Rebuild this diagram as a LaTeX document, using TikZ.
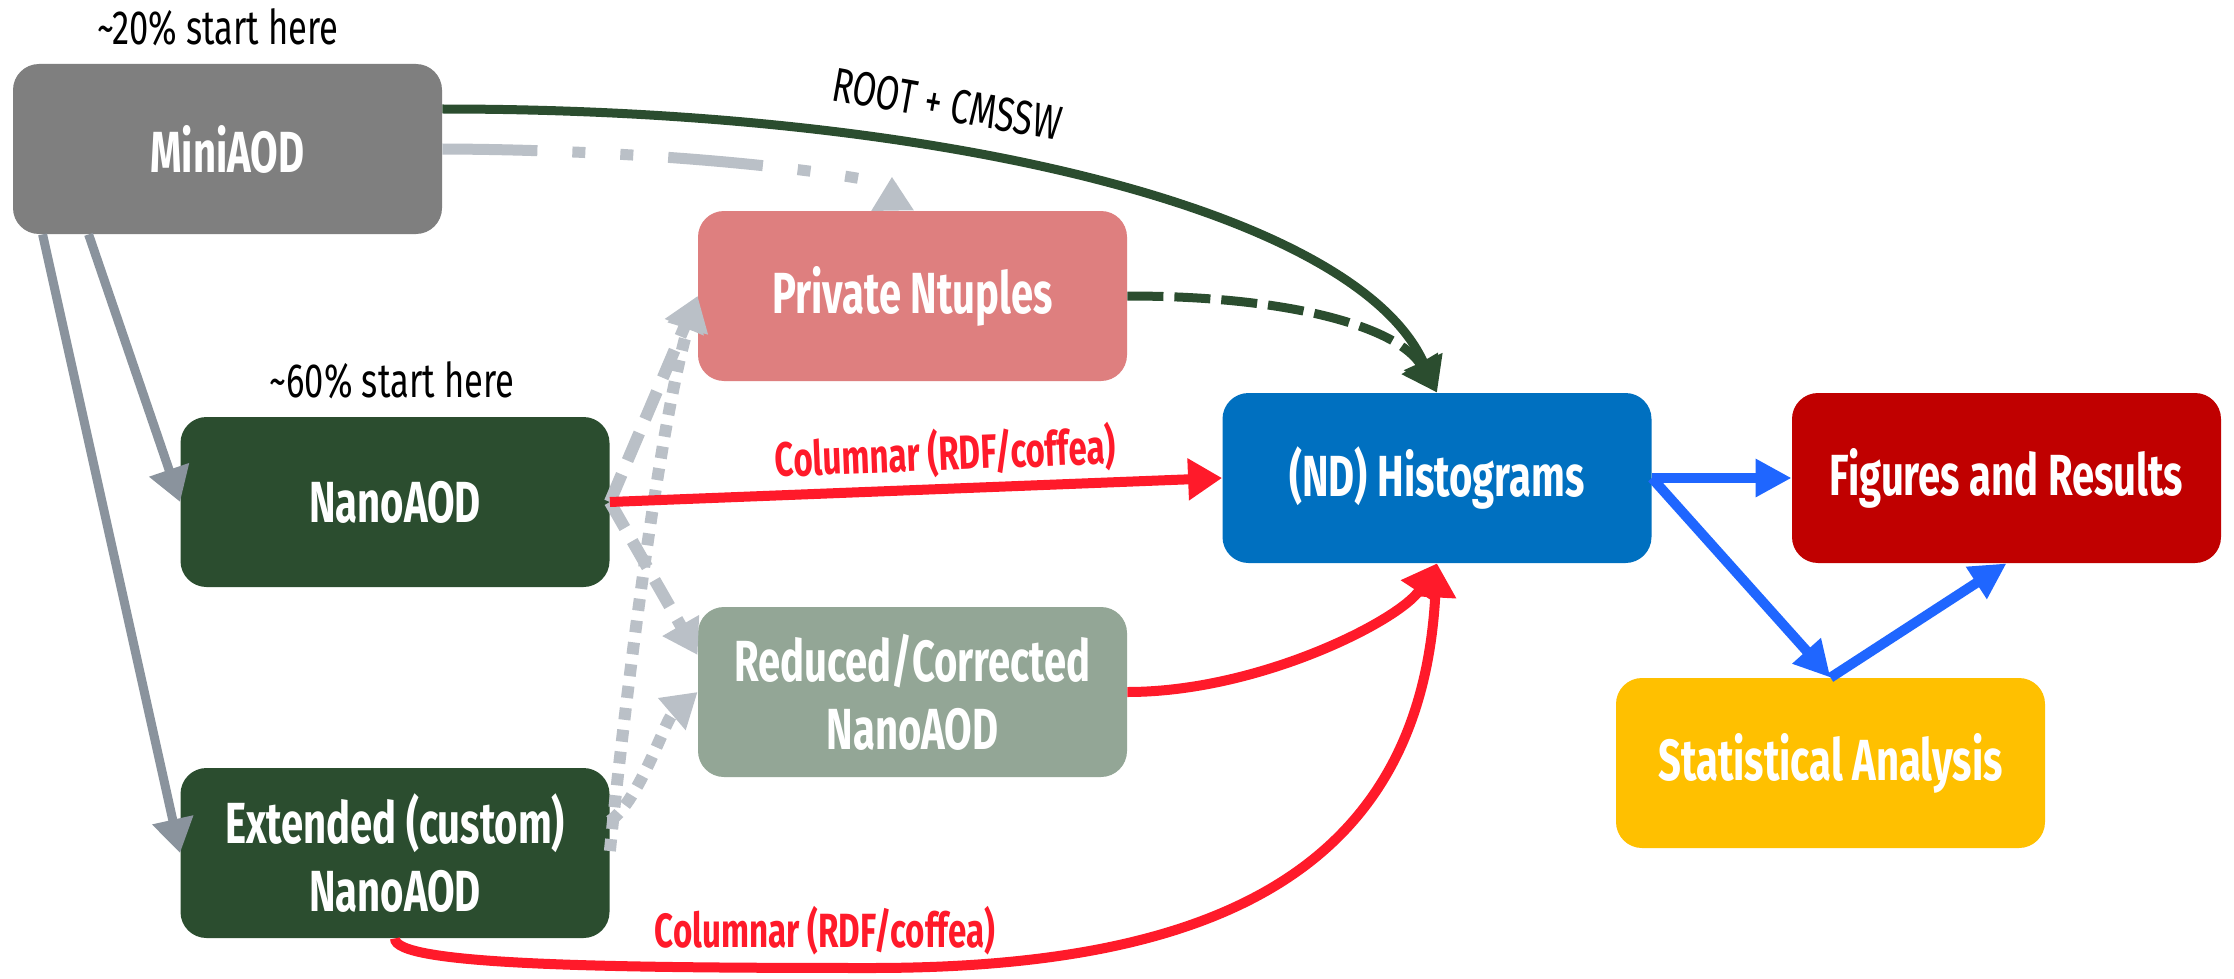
\documentclass[tikz,border=0pt]{standalone}
\usepackage{fontspec}
\setmainfont{Fira Sans}
\newfontfamily\condb[FakeStretch=0.69]{Fira Sans}
\newfontfamily\condr[FakeStretch=0.72]{Fira Sans}
\usetikzlibrary{arrows.meta}
\definecolor{cmini}{HTML}{7F7F7F}
\definecolor{cpn}{HTML}{DE7F7F}
\definecolor{cnano}{HTML}{2B4D2F}
\definecolor{cred}{HTML}{93A696}
\definecolor{chist}{HTML}{0070C0}
\definecolor{cfig}{HTML}{C00000}
\definecolor{cstat}{HTML}{FFC000}
\definecolor{lgray}{HTML}{BAC0C7}
\definecolor{dgray}{HTML}{8A939D}
\definecolor{rline}{HTML}{FF1A2A}
\definecolor{bline}{HTML}{1F66FF}
\begin{document}
\begin{tikzpicture}[x=0.5pt,y=-0.5pt,
  box/.style={rounded corners=13pt, minimum width=214.5pt, minimum height=85pt,
    inner sep=0pt, text=white, align=center,
    font=\condb\bfseries\fontsize{29}{34}\selectfont},
  note/.style={inner sep=0pt, text=black, font=\condr\fontsize{24}{28}\selectfont},
  redlabel/.style={inner sep=0pt, text=rline, font=\condb\bfseries\fontsize{24}{28}\selectfont},
  tip/.style={-{Triangle[length=17pt,width=20pt]}},
  greenline/.style={draw=cnano, line width=4.5pt, tip},
  greendash/.style={draw=cnano, line width=4.5pt, tip, dash pattern=on 18pt off 5.5pt},
  graysolid/.style={draw=dgray, line width=4.5pt, tip},
  lgdash/.style={draw=lgray, line width=6pt, tip, dash pattern=on 15pt off 7.5pt},
  lgdot/.style={draw=lgray, line width=6pt, tip, dash pattern=on 6pt off 5pt},
  lgdashdot/.style={draw=lgray, line width=5.5pt, -{Triangle[length=17pt,width=20pt,reversed]},
    dash pattern=on 47.5pt off 17.5pt on 6.5pt off 17.5pt on 6.5pt off 17.5pt},
  redline/.style={draw=rline, line width=5pt, tip},
  blueline/.style={draw=bline, line width=5pt, -{Triangle[length=18pt,width=18pt]}},
]
\useasboundingbox (0,0) rectangle (2234,979);
\fill[white] (0,0) rectangle (2234,979);

% boxes
\node[box, fill=cmini] (mini) at (227.5,149) {MiniAOD};
\node[box, fill=cpn] (pn) at (912.5,296) {Private Ntuples};
\node[box, fill=cnano] (nano) at (395,502) {NanoAOD};
\node[box, fill=cnano] (ext) at (395,853) {Extended (custom)\\NanoAOD};
\node[box, fill=cred] (red) at (912.5,692) {Reduced/Corrected\\NanoAOD};
\node[box, fill=chist] (hist) at (1437,478) {(ND) Histograms};
\node[box, fill=cfig] (fig) at (2006.5,478) {Figures and Results};
\node[box, fill=cstat] (stat) at (1830.5,763) {Statistical Analysis};

% labels
\node[note] (l20) at (218,27) {\textasciitilde 20\% start here};
\node[note] (l60) at (392,380) {\textasciitilde 60\% start here};
\node[note, rotate=-10] (lroot) at (947,104) {ROOT + CMSSW};
\node[redlabel] (lcol2) at (825,931) {Columnar (RDF/coffea)};

% MiniAOD connectors
\draw[greenline] ([yshift=20pt]mini.east) .. controls (950,109) and (1357,213) .. (hist.north);
\draw[lgdashdot] (mini.east) .. controls (700,150) and (892,180) .. ([xshift=-10pt]pn.north);
\draw[greendash] (pn.east) .. controls (1300,296) and (1400,330) .. (hist.north);
\draw[graysolid] ([xshift=38pt]mini.south west) -- (nano.west);
\draw[graysolid] ([xshift=15pt]mini.south west) -- (ext.west);

% light gray connectors
\draw[lgdash] (nano.east) -- (pn.west);
\draw[lgdash] (nano.east) -- ([yshift=18.5pt]red.west);
\draw[lgdot] ([yshift=1pt]ext.east) .. controls (625,700) and (660,420) .. (pn.west);
\draw[lgdot] ([yshift=16pt]ext.east) .. controls (640,800) and (665,720) .. (red.west);

% red connectors
\draw[redline] (nano.east) -- node[pos=0.55, above=3pt, sloped, redlabel] (lcol1) {Columnar (RDF/coffea)} (hist.west);
\draw[redline] (red.east) .. controls (1260,692) and (1400,620) .. (hist.south);
\coordinate (rlow) at (871,968);
\draw[redline] (ext.south) .. controls (394,965) and (600,968) .. (rlow)
  .. controls (1200,968) and (1420,880) .. (hist.south);

% blue connectors
\draw[blueline] (hist.east) -- (fig.west);
\draw[blueline] (hist.east) -- (stat.north);
\draw[blueline] (stat.north) -- (fig.south);
\end{tikzpicture}
\end{document}
